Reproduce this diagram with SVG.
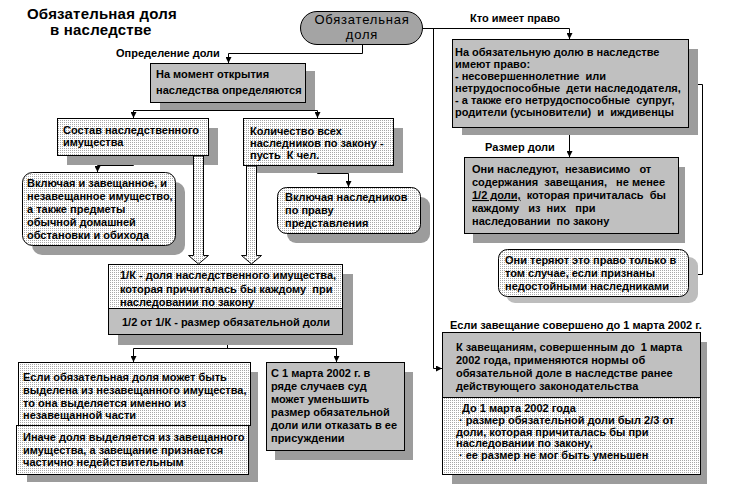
<svg xmlns="http://www.w3.org/2000/svg" width="729" height="486" viewBox="0 0 729 486">
<defs>
<pattern id="dots" width="2" height="2" patternUnits="userSpaceOnUse"><rect width="2" height="2" fill="#fff"/><rect width="1" height="1" fill="#a8a8a8"/></pattern>
<marker id="ah" viewBox="0 0 6 6" refX="6" refY="3" markerWidth="6" markerHeight="6" orient="auto" markerUnits="userSpaceOnUse"><path d="M0,0 L6,3 L0,6 z" fill="#000"/></marker>
</defs>
<style>
.t{font-family:"Liberation Sans",Arial,sans-serif;font-size:11px;font-weight:bold;fill:#000;white-space:pre}
.ttl{font-family:"Liberation Sans",Arial,sans-serif;font-size:15px;font-weight:bold;fill:#000;letter-spacing:0.2px}
.ov{font-family:"Liberation Sans",Arial,sans-serif;font-size:13px;fill:#000;letter-spacing:0.8px}
.gray{fill:#c0c0c0;stroke:#000;stroke-width:1}
.dot{fill:url(#dots);stroke:#000;stroke-width:1}
.dotn{fill:url(#dots);stroke:none}
.graynb{fill:#c0c0c0;stroke:none}
.frame{fill:none;stroke:#000;stroke-width:1}
.sh{fill:#9c9c9c}
.shl{fill:#bdbdbd}
.ln{fill:none;stroke:#000;stroke-width:1}
.arr{fill:none;stroke:#000;stroke-width:1;marker-end:url(#ah)}
.hollow{fill:url(#dots);stroke:#000;stroke-width:1}
</style>
<rect width="729" height="486" fill="#fff"/>

<g id="title">
<text class="ttl" x="27" y="19">Обязательная доля</text>
<text class="ttl" x="50" y="35">в наследстве</text>
</g>

<g id="connectors">
<polyline class="arr" points="362.5,45 362.5,53.5 228.5,53.5 228.5,63"/>
<polyline class="arr" points="423,28.5 569.5,28.5 569.5,39"/>
<polyline class="arr" points="433.5,28.5 433.5,368.5 442,368.5"/>
<polyline class="ln" points="228.5,102 228.5,110.5"/>
<polyline class="ln" points="133.5,110.5 317.5,110.5"/>
<polyline class="arr" points="133.5,110.5 133.5,118"/>
<polyline class="arr" points="317.5,110.5 317.5,118"/>
<polyline class="arr" points="133.5,155 133.5,165.5 97.5,165.5 97.5,172"/>
<polyline class="arr" points="317.5,165 317.5,173.5 348.5,173.5 348.5,187"/>
<polyline class="arr" points="688,84.5 702.5,84.5 702.5,274.5 688,274.5"/>
<polyline class="arr" points="569.5,127 569.5,157"/>
<polyline class="ln" points="227.5,335 227.5,348.5"/>
<polyline class="ln" points="133.5,348.5 336.5,348.5"/>
<polyline class="arr" points="133.5,348.5 133.5,362"/>
<polyline class="arr" points="336.5,348.5 336.5,362"/>
<text class="t" x="116" y="57">Определение доли</text>
<text class="t" x="470" y="22">Кто имеет право</text>
<text class="t" x="485" y="151">Размер доли</text>
<text class="t" x="450" y="329">Если завещание совершено до 1 марта 2002 г.</text>
</g>

<g id="n-oval">
<rect x="300.5" y="11.5" width="122" height="33" rx="16.5" fill="#a4a4a4" stroke="#000"/>
<text class="ov" x="362" y="24" text-anchor="middle">Обязательная</text>
<text class="ov" x="362" y="39" text-anchor="middle">доля</text>
</g>

<g id="n-moment">
<rect class="sh" x="160" y="71" width="155" height="39"/>
<rect class="gray" x="150.5" y="63.5" width="155" height="39"/>
<text class="t"><tspan x="156" y="78">На момент открытия</tspan><tspan x="156" y="94">наследства определяются</tspan></text>
</g>

<g id="n-sostav">
<rect class="sh" x="67" y="128" width="151" height="37"/>
<rect class="dot" x="57.5" y="118.5" width="151" height="37"/>
<text class="t"><tspan x="63" y="134">Состав наследственного</tspan><tspan x="63" y="146">имущества</tspan></text>
</g>

<g id="n-kol">
<rect class="sh" x="253" y="128" width="150" height="45"/>
<rect class="dot" x="243.5" y="118.5" width="150" height="47"/>
<text class="t"><tspan x="250" y="135">Количество всех</tspan><tspan x="250" y="147">наследников по закону -</tspan><tspan x="250" y="159">пусть  К чел.</tspan></text>
</g>

<g id="n-vkl1">
<rect class="sh" x="32" y="182" width="153" height="73" rx="10"/>
<rect class="dot" x="22.5" y="172.5" width="153" height="73" rx="10"/>
<text class="t"><tspan x="27" y="187">Включая и завещанное, и</tspan><tspan x="27" y="200">незавещанное имущество,</tspan><tspan x="27" y="213">а также предметы</tspan><tspan x="27" y="226">обычной домашней</tspan><tspan x="27" y="239">обстановки и обихода</tspan></text>
</g>

<g id="n-vkl2">
<rect class="sh" x="287" y="197" width="143" height="46" rx="9"/>
<rect class="dot" x="277.5" y="187.5" width="143" height="46" rx="9"/>
<text class="t"><tspan x="285" y="201">Включая наследников</tspan><tspan x="285" y="214">по праву</tspan><tspan x="285" y="227">представления</tspan></text>
</g>

<g id="hollow-arrows">
<path class="hollow" d="M193.5,156 L203.5,156 L203.5,255.5 L208.5,255.5 L198.5,264 L188.5,255.5 L193.5,255.5 Z"/>
<path class="hollow" d="M246.5,166 L256.5,166 L256.5,255.5 L261.5,255.5 L251.5,264 L241.5,255.5 L246.5,255.5 Z"/>
</g>

<g id="n-1k">
<rect class="sh" x="118" y="274" width="235" height="71"/>
<rect class="dotn" x="108.5" y="264.5" width="234" height="44"/>
<rect class="graynb" x="108.5" y="308.5" width="234" height="26"/>
<rect class="frame" x="108.5" y="264.5" width="234" height="70"/>
<line class="ln" x1="108.5" y1="308.5" x2="342.5" y2="308.5"/>
<text class="t"><tspan x="120" y="279">1/К - доля наследственного имущества,</tspan><tspan x="120" y="293">которая причиталась бы каждому  при</tspan><tspan x="120" y="306">наследовании по закону</tspan></text>
<text class="t" x="122" y="326">1/2 от 1/К - размер обязательной доли</text>
</g>

<g id="n-esli">
<rect class="sh" x="27" y="372" width="231" height="110"/>
<rect class="dot" x="18.5" y="362.5" width="232" height="63"/>
<text class="t"><tspan x="23" y="381">Если обязательная доля может быть</tspan><tspan x="23" y="394">выделена из незавещанного имущества,</tspan><tspan x="23" y="407">то она выделяется именно из</tspan><tspan x="23" y="419">незавещанной части</tspan></text>
</g>

<g id="n-inache">
<rect class="dot" x="16.5" y="425.5" width="232" height="49"/>
<text class="t"><tspan x="23" y="441">Иначе доля выделяется из завещанного</tspan><tspan x="23" y="454">имущества, а завещание признается</tspan><tspan x="23" y="466">частично недействительным</tspan></text>
</g>

<g id="n-s1">
<rect class="sh" x="275" y="372" width="138" height="88"/>
<rect class="gray" x="266.5" y="362.5" width="138" height="88"/>
<text class="t"><tspan x="271" y="377">С 1 марта 2002 г. в</tspan><tspan x="271" y="390">ряде случаев суд</tspan><tspan x="271" y="403">может уменьшить</tspan><tspan x="271" y="416">размер обязательной</tspan><tspan x="271" y="429">доли или отказать в ее</tspan><tspan x="271" y="442">присуждении</tspan></text>
</g>

<g id="n-kto">
<rect class="sh" x="462" y="49" width="236" height="86"/>
<rect class="gray" x="452.5" y="39.5" width="236" height="88"/>
<text class="t"><tspan x="455" y="56">На обязательную долю в наследстве</tspan><tspan x="455" y="68">имеют право:</tspan><tspan x="455" y="80">- несовершеннолетние  или</tspan><tspan x="455" y="92">нетрудоспособные  дети наследодателя,</tspan><tspan x="455" y="104">- а также его нетрудоспособные  супруг,</tspan><tspan x="455" y="116">родители (усыновители)  и  иждивенцы</tspan></text>
</g>

<g id="n-razmer">
<rect class="sh" x="473" y="167" width="212" height="76"/>
<rect class="gray" x="464.5" y="157.5" width="214" height="76"/>
<text class="t"><tspan x="472" y="173">Они наследуют,  независимо   от</tspan><tspan x="472" y="186">содержания  завещания,   не менее</tspan><tspan x="472" y="199" text-decoration="underline">1/2 доли,</tspan><tspan>  которая причиталась  бы</tspan><tspan x="472" y="212">каждому   из  них   при</tspan><tspan x="472" y="225">наследовании  по закону</tspan></text>
</g>

<g id="n-teryayut">
<rect class="shl" x="506" y="257" width="192" height="46" rx="9"/>
<rect class="dot" x="498.5" y="249.5" width="190" height="47" rx="9"/>
<text class="t"><tspan x="505" y="264">Они теряют это право только в</tspan><tspan x="505" y="277">том случае, если признаны</tspan><tspan x="505" y="290">недостойными наследниками</tspan></text>
</g>

<g id="n-zav">
<rect class="sh" x="452" y="342" width="255" height="142"/>
<rect class="graynb" x="442.5" y="332.5" width="258" height="65"/>
<rect class="dotn" x="442.5" y="397.5" width="258" height="77"/>
<rect class="frame" x="442.5" y="332.5" width="258" height="142"/>
<line class="ln" x1="442.5" y1="397.5" x2="700.5" y2="397.5"/>
<text class="t"><tspan x="456" y="351">К завещаниям, совершенным до  1 марта</tspan><tspan x="456" y="364">2002 года, применяются нормы об</tspan><tspan x="456" y="377">обязательной доле в наследстве ранее</tspan><tspan x="456" y="390">действующего законодательства</tspan></text>
<text class="t"><tspan x="462" y="412">До 1 марта 2002 года</tspan><tspan x="459" y="424">· размер обязательной доли был 2/3 от</tspan><tspan x="456" y="436">доли, которая причиталась бы при</tspan><tspan x="456" y="447">наследовании по закону,</tspan><tspan x="459" y="459">· ее размер не мог быть уменьшен</tspan></text>
</g>
</svg>
